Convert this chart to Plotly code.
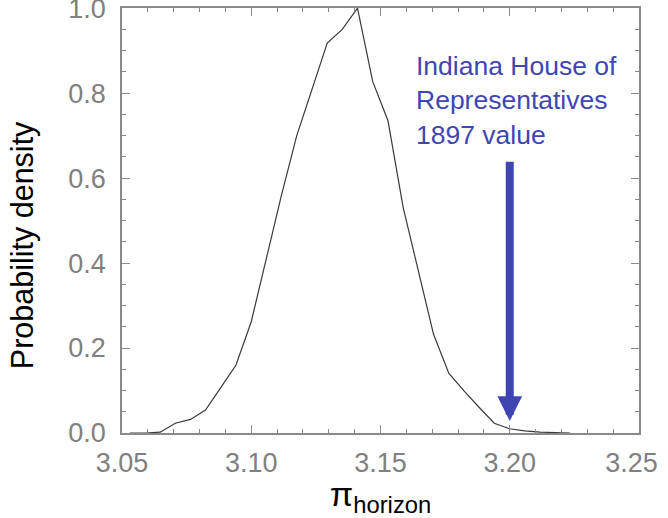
import plotly.graph_objects as go

# --- data ---
pi_values = [3.0530, 3.0589, 3.0648, 3.0706, 3.0765, 3.0823, 3.0882, 3.0941,
             3.1000, 3.1058, 3.1117, 3.1176, 3.1235, 3.1294, 3.1352, 3.1411,
             3.1470, 3.1529, 3.1588, 3.1646, 3.1705, 3.1764, 3.1823, 3.1882,
             3.1940, 3.1999, 3.2058, 3.2117, 3.2176, 3.2234]
density = [0.000, 0.000, 0.002, 0.023, 0.032, 0.054, 0.107, 0.160,
           0.262, 0.410, 0.560, 0.700, 0.810, 0.918, 0.950, 1.000,
           0.827, 0.735, 0.530, 0.383, 0.233, 0.141, 0.099, 0.060,
           0.023, 0.010, 0.005, 0.002, 0.0005, 0.000]

x_ticks = [3.05, 3.10, 3.15, 3.20, 3.25]
x_tick_labels = ["3.05", "3.10", "3.15", "3.20", "3.25\u00a0\u00a0"]
y_ticks = [0.0, 0.2, 0.4, 0.6, 0.8, 1.0]
y_tick_labels = ["0.0", "0.2", "0.4", "0.6", "0.8", "1.0"]

indiana_value = 3.20
arrow_tip_y = 0.028
arrow_tail_y = 0.642
label_text = "Indiana House of<br>Representatives<br>1897 value"
label_x = 3.163
label_y = 0.905
y_title = "Probability density"
x_title = "π<sub>horizon</sub>"

blue = "#3F46B2"
axis_gray = "#8a8a8a"
font_family = "Liberation Sans, Arial, sans-serif"

fig = go.Figure()
fig.add_trace(go.Scatter(x=pi_values, y=density, mode="lines",
                         line=dict(color="#3a3a3a", width=1.2),
                         showlegend=False, hoverinfo="skip"))

# arrow
fig.add_annotation(x=indiana_value, y=arrow_tip_y, ax=indiana_value, ay=arrow_tail_y,
                   xref="x", yref="y", axref="x", ayref="y",
                   text="", showarrow=True, arrowhead=2, arrowwidth=8,
                   arrowsize=0.62, arrowcolor=blue, standoff=0)
# label
fig.add_annotation(x=label_x, y=label_y, xref="x", yref="y", text=label_text,
                   showarrow=False, xanchor="left", yanchor="top", align="left",
                   font=dict(family=font_family, size=26.5, color=blue))
# y title
fig.add_annotation(x=0, y=0.442, xref="paper", yref="paper", xshift=-100,
                   text=y_title, textangle=-90, showarrow=False,
                   xanchor="center", yanchor="middle",
                   font=dict(family=font_family, size=30.5, color="black"))

fig.update_xaxes(range=[3.05, 3.25], tickvals=x_ticks, ticktext=x_tick_labels,
                 ticks="inside", ticklen=8, tickwidth=1, tickcolor=axis_gray,
                 minor=dict(dtick=0.01, ticks="inside", ticklen=4, tickcolor=axis_gray),
                 showline=True, linecolor=axis_gray, linewidth=1.5, mirror="ticks",
                 showgrid=False, zeroline=False, ticklabelstandoff=5,
                 ticklabeloverflow="allow",
                 tickfont=dict(family=font_family, size=27, color="#808080"),
                 title=dict(text=x_title, standoff=4,
                            font=dict(family=font_family, size=34, color="black")))
fig.update_yaxes(range=[0, 1.0005], tickvals=y_ticks, ticktext=y_tick_labels,
                 ticks="inside", ticklen=8, tickwidth=1, tickcolor=axis_gray,
                 minor=dict(dtick=0.05, ticks="inside", ticklen=4, tickcolor=axis_gray),
                 showline=True, linecolor=axis_gray, linewidth=1.5, mirror="ticks",
                 showgrid=False, zeroline=False, ticklabelstandoff=9,
                 ticklabeloverflow="allow",
                 tickfont=dict(family=font_family, size=27, color="#808080"))

fig.update_layout(width=668, height=518,
                  margin=dict(l=122, r=29, t=8, b=85, autoexpand=False),
                  plot_bgcolor="white", paper_bgcolor="white",
                  font=dict(family=font_family))

fig.write_html("out.html", config={"displayModeBar": False},
               post_script="document.body.style.margin='0';")
